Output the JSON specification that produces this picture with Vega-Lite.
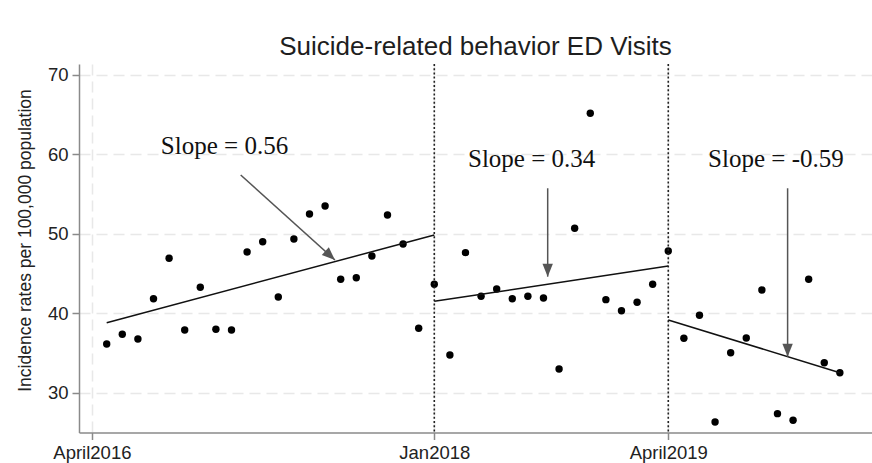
{
  "$schema": "https://vega.github.io/schema/vega-lite/v6.json",
  "width": 793,
  "height": 368.5,
  "autosize": {"type": "none"},
  "padding": {"left": 79, "top": 64, "right": 0, "bottom": 30.5},
  "background": "white",
  "title": {"text": "Suicide-related behavior ED Visits", "font": "Liberation Sans", "fontSize": 26, "fontWeight": "normal", "color": "#1e1e1e", "anchor": "middle", "offset": 3},
  "config": {
    "view": {"stroke": null},
    "axis": {
      "grid": true, "gridColor": "#e8e8e8", "gridDash": [11, 6], "gridWidth": 1.5,
      "domainColor": "#8a8a8a", "domainWidth": 1.5, "tickColor": "#8a8a8a", "tickWidth": 1.5, "tickSize": 7,
      "labelFont": "Liberation Sans", "labelFontSize": 18.5, "labelColor": "#222", "labelPadding": 4,
      "labelFlush": false, "labelOverlap": false
    }
  },
  "datasets": {
    "points": [
      {"t": 0, "v": 36.16}, {"t": 1, "v": 37.38}, {"t": 2, "v": 36.79}, {"t": 3, "v": 41.86},
      {"t": 4, "v": 46.94}, {"t": 5, "v": 37.92}, {"t": 6, "v": 43.30}, {"t": 7, "v": 38.01},
      {"t": 8, "v": 37.92}, {"t": 9, "v": 47.74}, {"t": 10, "v": 49.03}, {"t": 11, "v": 42.08},
      {"t": 12, "v": 49.37}, {"t": 13, "v": 52.52}, {"t": 14, "v": 53.52}, {"t": 15, "v": 44.30},
      {"t": 16, "v": 44.50}, {"t": 17, "v": 47.23}, {"t": 18, "v": 52.39}, {"t": 19, "v": 48.74},
      {"t": 20, "v": 38.14}, {"t": 21, "v": 43.67}, {"t": 22, "v": 34.78}, {"t": 23, "v": 47.65},
      {"t": 24, "v": 42.16}, {"t": 25, "v": 43.08}, {"t": 26, "v": 41.86}, {"t": 27, "v": 42.16},
      {"t": 28, "v": 41.95}, {"t": 29, "v": 33.02}, {"t": 30, "v": 50.72}, {"t": 31, "v": 65.18},
      {"t": 32, "v": 41.74}, {"t": 33, "v": 40.35}, {"t": 34, "v": 41.41}, {"t": 35, "v": 43.67},
      {"t": 36, "v": 47.86}, {"t": 37, "v": 36.88}, {"t": 38, "v": 39.77}, {"t": 39, "v": 26.35},
      {"t": 40, "v": 35.07}, {"t": 41, "v": 36.92}, {"t": 42, "v": 42.96}, {"t": 43, "v": 27.40},
      {"t": 44, "v": 26.57}, {"t": 45, "v": 44.30}, {"t": 46, "v": 33.81}, {"t": 47, "v": 32.55}
    ],
    "fits": [
      {"seg": 1, "t": 0, "v": 38.84}, {"seg": 1, "t": 21, "v": 49.87},
      {"seg": 2, "t": 21, "v": 41.53}, {"seg": 2, "t": 36, "v": 45.97},
      {"seg": 3, "t": 36, "v": 39.18}, {"seg": 3, "t": 47, "v": 32.55}
    ],
    "breaks": [{"t": 21}, {"t": 36}],
    "arrows": [
      {"id": 1, "t": 8.59, "v": 57.42, "t2": 14.63, "v2": 46.73},
      {"id": 2, "t": 28.27, "v": 55.75, "t2": 28.27, "v2": 44.63},
      {"id": 3, "t": 43.65, "v": 55.75, "t2": 43.65, "v2": 34.57}
    ],
    "labels": [
      {"t": 7.55, "v": 60.06, "text": "Slope = 0.56"},
      {"t": 27.24, "v": 58.47, "text": "Slope = 0.34"},
      {"t": 42.9, "v": 58.47, "text": "Slope = -0.59"}
    ]
  },
  "layer": [
    {
      "data": {"name": "points"},
      "mark": {"type": "point", "filled": true, "size": 55, "color": "#000", "opacity": 1},
      "encoding": {
        "x": {"field": "t", "type": "quantitative",
              "scale": {"domain": [-1.776, 49.06], "nice": false, "zero": false},
              "axis": {"title": null, "values": [-0.95, 21, 36],
                       "labelExpr": "datum.value < 0 ? 'April2016' : datum.value < 30 ? 'Jan2018' : 'April2019'"}},
        "y": {"field": "v", "type": "quantitative",
              "scale": {"domain": [25.03, 71.38], "nice": false, "zero": false},
              "axis": {"values": [30, 40, 50, 60, 70], "title": "Incidence rates per 100,000 population",
                       "titleFont": "Liberation Sans", "titleFontSize": 17.5, "titleFontWeight": "normal",
                       "titleColor": "#222", "titleX": -49, "titleY": 176, "titleAngle": 270,
                       "titleBaseline": "alphabetic", "titleAlign": "center"}}
      }
    },
    {
      "data": {"name": "breaks"},
      "mark": {"type": "rule", "color": "#222", "strokeWidth": 1.6, "strokeDash": [2, 2.2]},
      "encoding": {"x": {"field": "t", "type": "quantitative"}}
    },
    {
      "data": {"name": "fits"},
      "mark": {"type": "line", "color": "#111", "strokeWidth": 1.5},
      "encoding": {
        "x": {"field": "t", "type": "quantitative"},
        "y": {"field": "v", "type": "quantitative"},
        "detail": {"field": "seg", "type": "nominal"}
      }
    },
    {
      "data": {"name": "arrows"},
      "mark": {"type": "rule", "color": "#555", "strokeWidth": 1.5},
      "encoding": {
        "x": {"field": "t", "type": "quantitative"},
        "y": {"field": "v", "type": "quantitative"},
        "x2": {"field": "t2"},
        "y2": {"field": "v2"}
      }
    },
    {
      "data": {"name": "arrows"},
      "transform": [{"filter": "datum.id == 1"}],
      "mark": {"type": "point", "filled": true, "shape": "M-0.8,-2L0.8,-2L0,0Z", "size": 169, "color": "#555", "opacity": 1, "angle": 312.4},
      "encoding": {
        "x": {"field": "t2", "type": "quantitative"},
        "y": {"field": "v2", "type": "quantitative"}
      }
    },
    {
      "data": {"name": "arrows"},
      "transform": [{"filter": "datum.id != 1"}],
      "mark": {"type": "point", "filled": true, "shape": "M-0.8,-2L0.8,-2L0,0Z", "size": 169, "color": "#555", "opacity": 1},
      "encoding": {
        "x": {"field": "t2", "type": "quantitative"},
        "y": {"field": "v2", "type": "quantitative"}
      }
    },
    {
      "data": {"name": "labels"},
      "mark": {"type": "text", "font": "Liberation Serif", "fontSize": 25, "align": "center", "baseline": "alphabetic", "color": "#111"},
      "encoding": {
        "x": {"field": "t", "type": "quantitative"},
        "y": {"field": "v", "type": "quantitative"},
        "text": {"field": "text"}
      }
    }
  ]
}
